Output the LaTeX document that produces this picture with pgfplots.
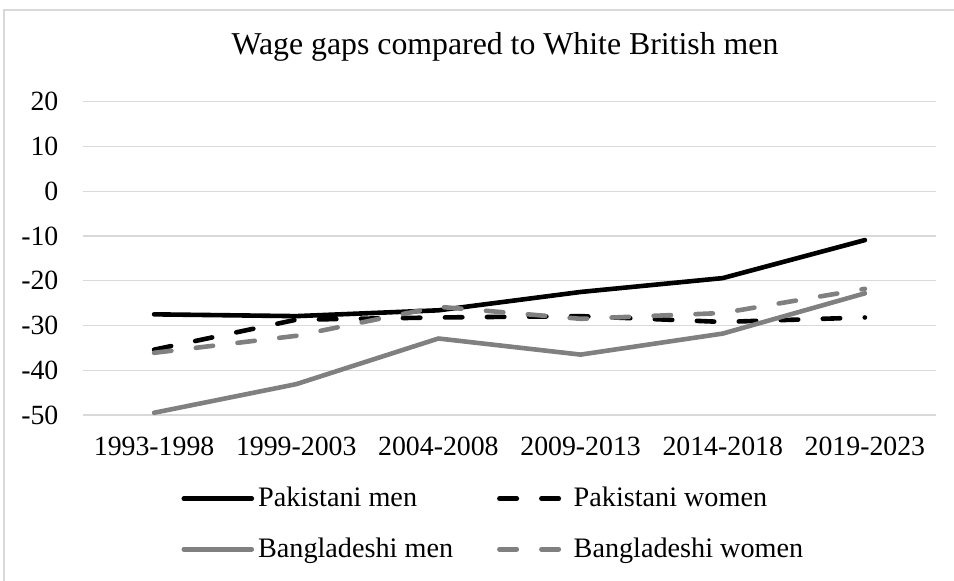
\documentclass[border=0pt]{standalone}
\usepackage{fontspec}
\setmainfont{Liberation Serif}
\usepackage{pgfplots}
\pgfplotsset{compat=1.18}
\definecolor{gridgray}{RGB}{217,217,217}
\definecolor{midgray}{RGB}{128,128,128}
\begin{document}
\begin{tikzpicture}
\useasboundingbox (0,0) rectangle (477pt,-290pt);
\draw[gridgray, line width=0.8pt] (2pt,-292pt) -- (2pt,-5pt) -- (479pt,-5pt);
\node[font=\fontsize{15.9}{19}\selectfont] at (252.5pt,-23.5pt) {Wage gaps compared to White British men};
\begin{axis}[
    at={(41.5pt,-207.5pt)}, anchor=south west,
    scale only axis,
    width=426.5pt, height=156.6pt,
    xmin=-0.5, xmax=5.5,
    ymin=-50, ymax=20,
    axis line style={draw=none},
    major tick length=0pt,
    xtick={0,1,2,3,4,5},
    xticklabels={1993-1998,1999-2003,2004-2008,2009-2013,2014-2018,2019-2023},
    ytick={-50,-40,-30,-20,-10,0,10,20},
    yticklabels={-50,-40,-30,-20,-10,0,10,20},
    ymajorgrids=true,
    grid style={gridgray, line width=0.6pt},
    tick label style={font=\fontsize{13.9}{16}\selectfont},
    xticklabel style={yshift=-7.5pt},
    yticklabel style={xshift=-8.8pt},
    legend columns=2,
    legend style={draw=none, fill=none, inner sep=0pt,
        at={(0.115,-0.217)}, anchor=north west,
        font=\fontsize{14.1}{16}\selectfont,
        cells={anchor=west},
        /tikz/every even column/.append style={column sep=20pt},
        row sep=10pt},
    legend image code/.code={\draw[#1] (0pt,0pt) -- (34pt,0pt);},
    every axis plot/.append style={line width=2.3pt, line cap=round, line join=round},
]
\addplot[black] coordinates {(0,-27.5) (1,-27.9) (2,-26.6) (3,-22.5) (4,-19.4) (5,-10.9)};
\addlegendentry{Pakistani men}
\addplot[black, dash pattern=on 8.7pt off 12.3pt] coordinates {(0,-35.4) (1,-28.7) (2,-28.2) (3,-27.9) (4,-29.2) (5,-28.2)};
\addlegendentry{Pakistani women}
\addplot[midgray] coordinates {(0,-49.5) (1,-43.1) (2,-32.9) (3,-36.5) (4,-31.8) (5,-22.8)};
\addlegendentry{Bangladeshi men}
\addplot[midgray, dash pattern=on 8.7pt off 12.3pt] coordinates {(0,-36.1) (1,-32.3) (2,-25.8) (3,-28.5) (4,-27.2) (5,-21.8)};
\addlegendentry{Bangladeshi women}
\end{axis}
\end{tikzpicture}
\end{document}
